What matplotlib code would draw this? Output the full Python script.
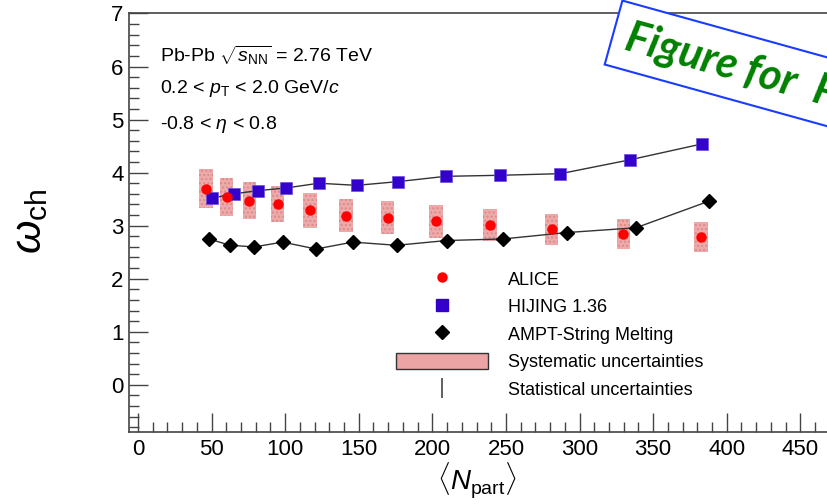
import matplotlib
matplotlib.use("Agg")
import matplotlib.pyplot as plt
import matplotlib.patches as mpatches
from matplotlib.lines import Line2D
from matplotlib.ticker import MultipleLocator

plt.rcParams['font.family'] = ['Liberation Sans', 'DejaVu Sans']
plt.rcParams['mathtext.fontset'] = 'custom'
plt.rcParams['mathtext.rm'] = 'Liberation Sans'
plt.rcParams['mathtext.it'] = 'Liberation Sans:italic'
plt.rcParams['mathtext.bf'] = 'Liberation Sans:bold'
plt.rcParams['hatch.linewidth'] = 1.0

# Data
npart_alice = [46.2, 60.3, 75.6, 94.9, 116.8, 141.3, 169.6, 202.4, 239.1, 281.0, 329.7, 382.5]
omega_alice = [3.70, 3.54, 3.47, 3.40, 3.29, 3.19, 3.15, 3.08, 3.01, 2.93, 2.84, 2.79]
sys_alice = [0.375, 0.36, 0.35, 0.34, 0.325, 0.315, 0.315, 0.305, 0.30, 0.29, 0.28, 0.28]

npart_hijing = [50.5, 65.2, 81.3, 100.5, 122.8, 148.6, 176.4, 209.0, 246.0, 287.0, 334.0, 383.0]
omega_hijing = [3.52, 3.60, 3.66, 3.71, 3.80, 3.76, 3.83, 3.93, 3.95, 3.98, 4.24, 4.54]

npart_ampt = [48.2, 62.5, 79.0, 98.3, 121.0, 145.9, 175.7, 209.7, 248.2, 291.2, 338.3, 387.7]
omega_ampt = [2.75, 2.63, 2.60, 2.69, 2.56, 2.69, 2.63, 2.72, 2.75, 2.87, 2.96, 3.46]

x_ticks = [0, 50, 100, 150, 200, 250, 300, 350, 400, 450]
y_ticks = [0, 1, 2, 3, 4, 5, 6, 7]

pink = '#eeaaaa'
blue = '#3300cc'

fig = plt.figure(figsize=(8.28, 5.04), dpi=100)
ax = fig.add_axes([129/828, 72/504, 699/828, 418.5/504])

# systematic boxes
ax.bar(npart_alice, [2*s for s in sys_alice],
       bottom=[y - s for y, s in zip(omega_alice, sys_alice)],
       width=9, color=pink, edgecolor='#dc8a8a', hatch='....', linewidth=0, zorder=1)

ax.plot(npart_alice, omega_alice, 'o', color='#ff0000', ms=7.5, mec='none', zorder=4)

ax.plot(npart_hijing, omega_hijing, '-', color='#333333', lw=1, zorder=2)
ax.plot(npart_hijing, omega_hijing, 's', color=blue, ms=9, mec='#6a50e0', mew=0.5, zorder=3)

ax.plot(npart_ampt, omega_ampt, '-', color='#333333', lw=1, zorder=2)
ax.plot(npart_ampt, omega_ampt, 'D', color='black', ms=7, zorder=3)

ax.set_xlim(-6.1, 468.8)
ax.set_ylim(-0.89, 7)
ax.set_xticks(x_ticks)
ax.set_yticks(y_ticks)
ax.xaxis.set_minor_locator(MultipleLocator(10))
ax.yaxis.set_minor_locator(MultipleLocator(0.2))
ax.tick_params(which='both', direction='in', top=False, right=False,
               color='#444444', width=1, labelsize=16)
ax.tick_params(which='major', length=14)
ax.tick_params(which='minor', length=7)
ax.tick_params(axis='y', pad=4)
ax.tick_params(axis='x', pad=5)
for side in ['left', 'bottom', 'top']:
    ax.spines[side].set_color('#444444')
    ax.spines[side].set_linewidth(1.2)
ax.spines['right'].set_visible(False)

# annotations
fig.text(160/828, 1 - 62/504, r'Pb-Pb $\sqrt{s_{\rm NN}}$ = 2.76 TeV', fontsize=14, va='baseline')
fig.text(160/828, 1 - 93/504, r'0.2 < $p_{\rm T}$ < 2.0 GeV/$c$', fontsize=14, va='baseline')
fig.text(160/828, 1 - 129/504, r'-0.8 < $\eta$ < 0.8', fontsize=14, va='baseline')

fig.text(30/828, 1 - 221/504, r'$\omega_{\rm ch}$', fontsize=31, rotation=90, ha='center', va='center')
fig.text(477/828, 1 - 481/504, r'$\langle N_{\rm part} \rangle$', fontsize=20, ha='center', va='center')

# legend
handles = [
    Line2D([], [], marker='o', color='#ff0000', ls='none', ms=7.5, mec='none'),
    Line2D([], [], marker='s', color=blue, ls='none', ms=9),
    Line2D([], [], marker='D', color='black', ls='none', ms=7),
    mpatches.Patch(facecolor='#eca4a4', edgecolor='#333333', linewidth=1),
    Line2D([], [], marker='|', color='#444444', ls='none', ms=15, mew=1.2),
]
labels = ['ALICE', 'HIJING 1.36', 'AMPT-String Melting',
          'Systematic uncertainties', 'Statistical uncertainties']
fig.legend(handles, labels, loc='upper left', bbox_to_anchor=(396/828, 1 - 270/504),
           frameon=False, fontsize=13, handlelength=5.1, handleheight=1.05,
           handletextpad=1.1, labelspacing=0.5, borderpad=0, borderaxespad=0)

# overlay label
fig.text(626/828, 1 - 36/504, 'Figure for  Physics', fontsize=31, color='#008000',
         family='Lato', fontweight='bold', fontstyle='italic',
         rotation=-15.5, rotation_mode='anchor', ha='left', va='center',
         bbox=dict(boxstyle='square,pad=0.3', facecolor='white', edgecolor='#1a3cff', linewidth=1.5))

fig.savefig('out.png', dpi=100)
